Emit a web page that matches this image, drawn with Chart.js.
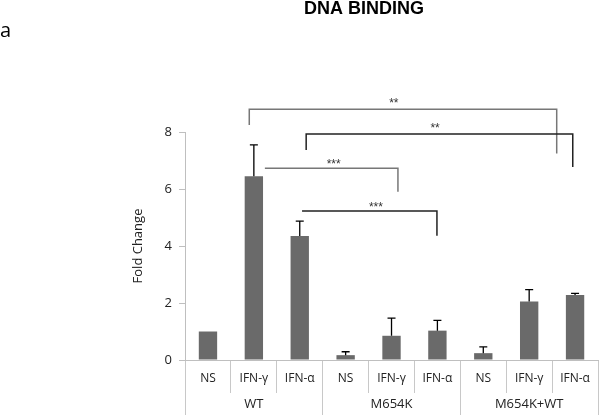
<!DOCTYPE html>
<html>
<head>
<meta charset="utf-8">
<script src="https://cdn.jsdelivr.net/npm/chart.js@4"></script>
<style>
  html, body { margin: 0; padding: 0; background: #fff; }
  #wrap { width: 600px; height: 415px; }
</style>
</head>
<body>
<div id="wrap"><canvas id="myChart"></canvas></div>
<script>
// categories (lower row) and groups (upper row)
const labels = ['NS', 'IFN-γ', 'IFN-α', 'NS', 'IFN-γ', 'IFN-α', 'NS', 'IFN-γ', 'IFN-α'];
const groups = ['WT', 'M654K', 'M654K+WT'];

// bar heights and upper error bars
const values = [1.0, 6.45, 4.35, 0.17, 0.85, 1.03, 0.24, 2.05, 2.28];
const errors = [0, 1.1, 0.52, 0.12, 0.62, 0.36, 0.22, 0.42, 0.06];

const yTicks = [0, 2, 4, 6, 8];

// significance brackets: from/to category index, top value, leg ends (null = no leg), text position
const brackets = [
  { from: 0.9, to: 7.6, top: 8.8, legFrom: 8.25, legTo: 7.25, text: '**', tx: 4.05, ty: 9.12, color: '#777' },
  { from: 2.14, to: 7.95, top: 7.93, legFrom: 7.37, legTo: 6.77, text: '**', tx: 4.95, ty: 8.25, color: '#222' },
  { from: 1.24, to: 4.14, top: 6.73, legFrom: null, legTo: 5.9, text: '***', tx: 2.74, ty: 7.0, color: '#777' },
  { from: 2.05, to: 4.99, top: 5.23, legFrom: null, legTo: 4.36, text: '***', tx: 3.66, ty: 5.47, color: '#222' }
];

// error bars + brackets + panel letter
const extras = {
  id: 'extras',
  afterDatasetsDraw(chart) {
    const ctx = chart.ctx;
    const x = chart.scales.x;
    const y = chart.scales.y;
    const meta = chart.getDatasetMeta(0);
    ctx.save();
    ctx.strokeStyle = '#000';
    ctx.lineWidth = 1.3;
    meta.data.forEach((bar, i) => {
      if (!errors[i]) return;
      const top = y.getPixelForValue(values[i] + errors[i]);
      ctx.beginPath();
      ctx.moveTo(bar.x, bar.y);
      ctx.lineTo(bar.x, top);
      ctx.moveTo(bar.x - 4, top);
      ctx.lineTo(bar.x + 4, top);
      ctx.stroke();
    });

    brackets.forEach(b => {
      const x1 = x.getPixelForValue(b.from);
      const x2 = x.getPixelForValue(b.to);
      const yt = y.getPixelForValue(b.top);
      ctx.strokeStyle = b.color;
      ctx.lineWidth = 1.5;
      ctx.beginPath();
      if (b.legFrom !== null) {
        ctx.moveTo(x1, y.getPixelForValue(b.legFrom));
        ctx.lineTo(x1, yt);
      } else {
        ctx.moveTo(x1, yt);
      }
      ctx.lineTo(x2, yt);
      ctx.lineTo(x2, y.getPixelForValue(b.legTo));
      ctx.stroke();

      ctx.fillStyle = '#333';
      ctx.font = '12px "Liberation Sans", Arial, sans-serif';
      ctx.textAlign = 'center';
      ctx.textBaseline = 'middle';
      ctx.fillText(b.text, x.getPixelForValue(b.tx), y.getPixelForValue(b.ty) + 4);
    });

    ctx.fillStyle = '#000';
    ctx.font = '20px "Open Sans", sans-serif';
    ctx.textAlign = 'left';
    ctx.textBaseline = 'alphabetic';
    ctx.fillText('a', 0, 37);
    ctx.restore();
  }
};

const data = {
  labels: labels,
  datasets: [{
    label: 'Fold Change',
    data: values,
    backgroundColor: '#6a6a6a',
    borderWidth: 0,
    barPercentage: 0.4,
    categoryPercentage: 1.0
  }]
};

const config = {
  type: 'bar',
  data: data,
  plugins: [extras],
  options: {
    responsive: true,
    maintainAspectRatio: false,
    animation: false,
    layout: { padding: { left: 130, right: 2, top: 0, bottom: 3 } },
    plugins: {
      legend: { display: false },
      tooltip: { enabled: false },
      title: {
        display: true,
        text: 'DNA BINDING',
        color: '#000',
        font: { family: '"Liberation Sans", Arial, sans-serif', size: 18, weight: 'bold', lineHeight: 1 },
        padding: { top: 0, bottom: 114 }
      }
    },
    scales: {
      x: {
        type: 'category',
        offset: true,
        weight: 0,
        grid: { offset: true, drawOnChartArea: false, tickLength: 33, color: '#c8c8c8' },
        border: { color: '#bfbfbf' },
        afterFit: scale => { scale.height = 25; },
        ticks: {
          padding: -22,
          color: '#222',
          maxRotation: 0,
          autoSkip: false,
          font: { family: '"Open Sans", sans-serif', size: 12 }
        }
      },
      x2: {
        type: 'category',
        labels: groups,
        position: 'bottom',
        offset: true,
        weight: 1,
        grid: { offset: true, drawOnChartArea: false, tickLength: 30, color: '#c8c8c8' },
        border: { display: false },
        afterFit: scale => { scale.height = 27; },
        ticks: {
          padding: -19,
          color: '#222',
          maxRotation: 0,
          autoSkip: false,
          font: { family: '"Open Sans", sans-serif', size: 13 }
        }
      },
      y: {
        min: 0,
        max: 8,
        grid: { drawOnChartArea: false, tickLength: 6, color: '#bfbfbf' },
        border: { color: '#bfbfbf' },
        afterBuildTicks: scale => { scale.ticks = yTicks.map(v => ({ value: v })); },
        ticks: {
          padding: 7,
          color: '#222',
          font: { family: '"Open Sans", sans-serif', size: 13 }
        },
        title: {
          display: true,
          text: 'Fold Change',
          color: '#222',
          padding: { top: 0, bottom: 12 },
          font: { family: '"Open Sans", sans-serif', size: 13 }
        }
      }
    }
  }
};

const myChart = new Chart(document.getElementById('myChart'), config);
</script>
</body>
</html>
